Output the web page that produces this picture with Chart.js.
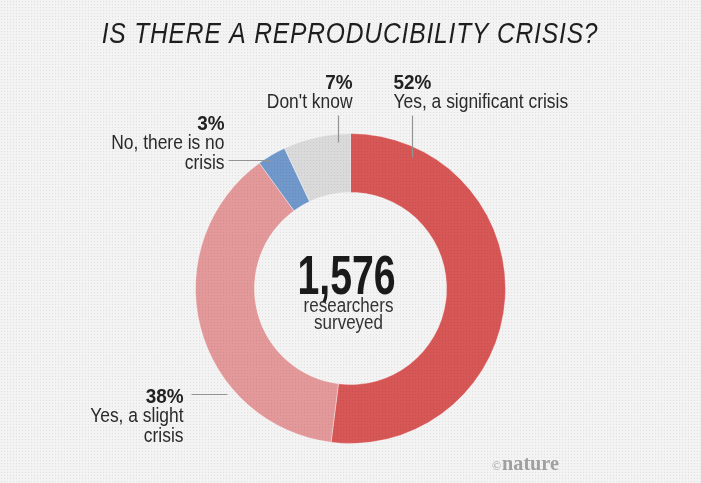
<!DOCTYPE html>
<html lang="en">
<head>
    <meta charset="UTF-8">
    <title>Is there a reproducibility crisis?</title>
    <script src="https://cdn.jsdelivr.net/npm/chart.js"></script>
    <style>
        html, body { margin: 0; padding: 0; }
        body {
            width: 701px; height: 483px; overflow: hidden;
            background-color: #f3f3f3;
            background-image: radial-gradient(#e1e1e1 0.7px, transparent 1px);
            background-size: 3px 3px;
        }
        #wrap { position: relative; width: 701px; height: 483px; }
    </style>
</head>
<body>
<div id="wrap"><canvas id="crisisChart"></canvas></div>

<script>
    // survey answers, clockwise from 12 o'clock
    const answers = ['Yes, a significant crisis', 'Yes, a slight crisis', 'No, there is no crisis', "Don't know"];
    const shares = [52, 38, 3, 7];
    const sliceColors = ['#d75756', '#e3999a', '#7098cb', '#dadada'];
    // label text as it is broken into lines on the picture
    const labelLines = [
        ['Yes, a significant crisis'],
        ['Yes, a slight', 'crisis'],
        ['No, there is no', 'crisis'],
        ["Don't know"]
    ];
    const respondents = '1,576';
    const chartTitle = 'IS THERE A REPRODUCIBILITY CRISIS?';

    const sans = '"Liberation Sans", Arial, sans-serif';
    const squeeze = 0.85;   // no narrow face installed, so condense by hand

    // where each label sits, relative to the donut centre
    const labelSpots = [
        {x: 43, y: -200, align: 'left', line: [[62, -173], [62, -131]]},
        {x: -167, y: 114, align: 'right', line: [[-159, 106], [-123, 106]]},
        {x: -126, y: -159, align: 'right', line: [[-122, -128], [-78, -128]]},
        {x: 2, y: -200, align: 'right', line: [[-12, -173], [-12, -146]]}
    ];

    // flat colour with the faint printed dot screen on top
    function dotted(color) {
        const c = document.createElement('canvas');
        c.width = 3; c.height = 3;
        const g = c.getContext('2d');
        g.fillStyle = color;
        g.fillRect(0, 0, 3, 3);
        g.fillStyle = 'rgba(0,0,0,0.07)';
        g.fillRect(1, 1, 1, 1);
        return g.createPattern(c, 'repeat');
    }

    function narrowText(ctx, text, x, y, align, font, sx) {
        ctx.save();
        ctx.translate(x, y);
        ctx.scale(sx, 1);
        ctx.font = font;
        ctx.textAlign = align;
        ctx.textBaseline = 'alphabetic';
        ctx.fillText(text, 0, 0);
        ctx.restore();
    }

    const calloutPlugin = {
        id: 'callouts',
        afterDatasetsDraw(chart) {
            const ctx = chart.ctx;
            const arc = chart.getDatasetMeta(0).data[0];
            const cx = arc.x, cy = arc.y;
            ctx.save();

            // title
            ctx.fillStyle = '#1e1e1e';
            ctx.letterSpacing = '1px';
            narrowText(ctx, chartTitle, 350, 43, 'center', 'italic 30px ' + sans, 0.82);
            ctx.letterSpacing = '0px';

            // leader lines and labels
            labelSpots.forEach((spot, i) => {
                ctx.strokeStyle = '#939393';
                ctx.lineWidth = 1.2;
                ctx.beginPath();
                ctx.moveTo(cx + spot.line[0][0], cy + spot.line[0][1]);
                ctx.lineTo(cx + spot.line[1][0], cy + spot.line[1][1]);
                ctx.stroke();

                ctx.fillStyle = '#222';
                narrowText(ctx, shares[i] + '%', cx + spot.x, cy + spot.y, spot.align, 'bold 21px ' + sans, 0.9);
                ctx.fillStyle = '#2a2a2a';
                labelLines[i].forEach((t, j) => {
                    narrowText(ctx, t, cx + spot.x, cy + spot.y + 19 + j * 20, spot.align, '20.5px ' + sans, squeeze);
                });
            });

            // number in the middle
            ctx.fillStyle = '#1a1a1a';
            narrowText(ctx, respondents, cx - 4, cy + 5, 'center', 'bold 56px ' + sans, 0.7);
            ctx.fillStyle = '#333';
            narrowText(ctx, 'researchers', cx - 2, cy + 23, 'center', '20px ' + sans, squeeze);
            narrowText(ctx, 'surveyed', cx - 2, cy + 40, 'center', '20px ' + sans, squeeze);

            // credit
            ctx.fillStyle = '#a0a0a0';
            narrowText(ctx, '©', 492, 470, 'left', '12px "Liberation Serif", serif', 1);
            narrowText(ctx, 'nature', 502, 470, 'left', 'bold 22px "Liberation Serif", serif', 0.92);
            ctx.restore();
        }
    };

    new Chart(document.getElementById('crisisChart'), {
        type: 'doughnut',
        data: {
            labels: answers,
            datasets: [{
                data: shares,
                backgroundColor: sliceColors.map(dotted),
                borderColor: 'rgba(255,255,255,0.35)',
                borderWidth: 1,
                hoverOffset: 0
            }]
        },
        options: {
            responsive: true,
            maintainAspectRatio: false,
            animation: false,
            cutout: '62%',
            layout: {padding: {top: 133, bottom: 39, left: 0, right: 0}},
            plugins: {
                legend: {display: false},
                tooltip: {enabled: false},
                title: {display: false}
            }
        },
        plugins: [calloutPlugin]
    });
</script>
</body>
</html>
